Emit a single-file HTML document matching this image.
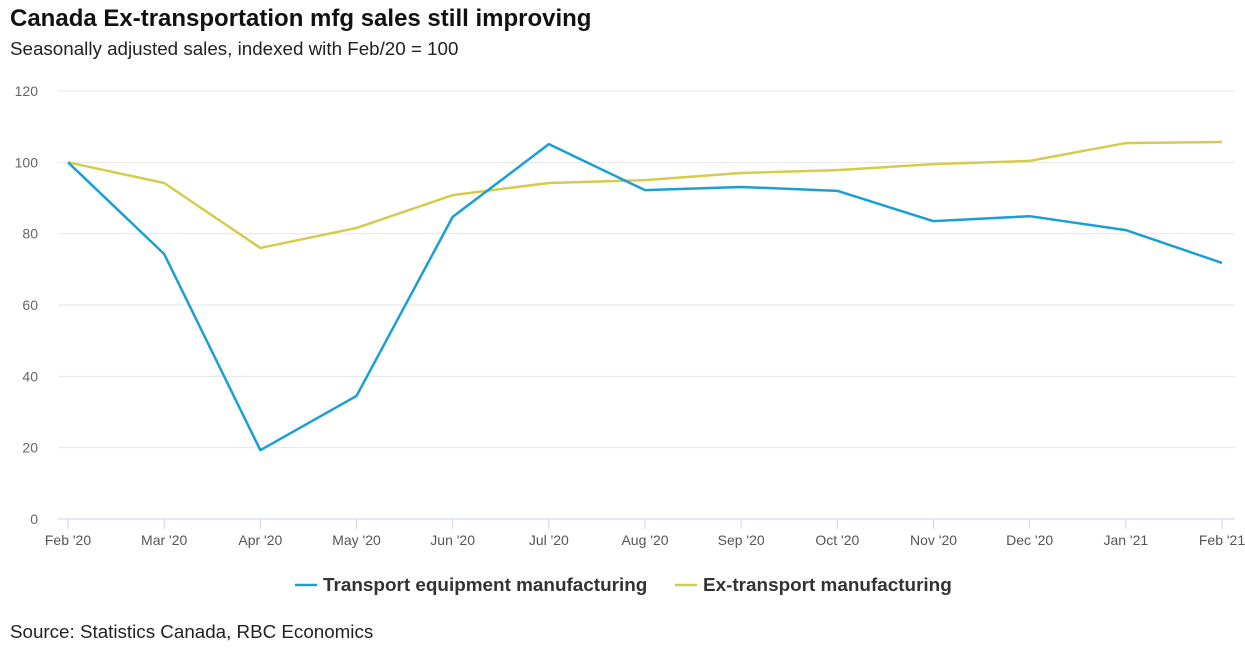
<!DOCTYPE html>
<html><head><meta charset="utf-8"><style>
body{margin:0;background:#fff;width:1245px;height:649px;overflow:hidden;font-family:"Liberation Sans",sans-serif}
.t{position:absolute;left:10px;top:5px;font-size:24px;font-weight:bold;color:#111}
.s{position:absolute;left:10px;top:38px;font-size:18.8px;color:#222}
.src{position:absolute;left:10px;top:621px;font-size:18.8px;color:#222}
</style></head><body>
<div class="t">Canada Ex-transportation mfg sales still improving</div>
<div class="s">Seasonally adjusted sales, indexed with Feb/20 = 100</div>
<svg id="c" width="1245" height="649" style="position:absolute;left:0;top:0"></svg>
<div class="src">Source: Statistics Canada, RBC Economics</div>
<script>
const categories=["Feb '20","Mar '20","Apr '20","May '20","Jun '20","Jul '20","Aug '20","Sep '20","Oct '20","Nov '20","Dec '20","Jan '21","Feb '21"];
const transport=[100,74.3,19.3,34.5,84.7,105.1,92.2,93.1,92,83.5,84.9,81,71.8];
const exTransport=[100,94.2,76,81.6,90.8,94.2,95,97,97.8,99.5,100.4,105.4,105.7];
const yTicks=[0,20,40,60,80,100,120];
const svg=document.getElementById('c');
const NS='http://www.w3.org/2000/svg';
const x=i=>68+i*(1222-68)/(categories.length-1);
const y=v=>519-v*(519-91)/120;
function mk(t,a){const e=document.createElementNS(NS,t);for(const k in a)e.setAttribute(k,a[k]);svg.appendChild(e);return e;}
yTicks.forEach(v=>{
  const l=mk('line',{x1:58,x2:1235,y1:y(v),y2:y(v),stroke:v===0?'#ccd6eb':'#e6e6e6','stroke-width':1});
  
  
  const t=mk('text',{x:38,y:y(v)+5,'text-anchor':'end','font-size':14,fill:'#666','font-family':'Liberation Sans, sans-serif'});
  t.textContent=v;
  
  
});
categories.forEach((c,i)=>{
  const tk=mk('line',{x1:x(i),x2:x(i),y1:519,y2:529,stroke:'#ccd6eb'});
  
  
  const t=mk('text',{x:x(i),y:545,'text-anchor':'middle','font-size':14,fill:'#555','font-family':'Liberation Sans, sans-serif'});
  t.textContent=c;
  
  
});
function series(vals,col,name){
  const p=mk('polyline',{points:vals.map((v,i)=>x(i)+','+y(v)).join(' '),fill:'none',stroke:col,'stroke-width':2.5,'stroke-linejoin':'round'});
  
  
}
series(exTransport,'#d4cc4a','ex-transport-line');
series(transport,'#1a9fd4','transport-line');
function legend(lx,col,txt,name){
  const l=mk('line',{x1:lx,x2:lx+22,y1:585,y2:585,stroke:col,'stroke-width':2.5});
  
  
  const t=mk('text',{x:lx+28,y:591,'font-size':18.9,'font-weight':'bold',fill:'#333','font-family':'Liberation Sans, sans-serif'});
  t.textContent=txt;
  
  
}
legend(295,'#1a9fd4','Transport equipment manufacturing','legend-transport');
legend(675,'#d4cc4a','Ex-transport manufacturing','legend-ex-transport');
</script>
</body></html>
